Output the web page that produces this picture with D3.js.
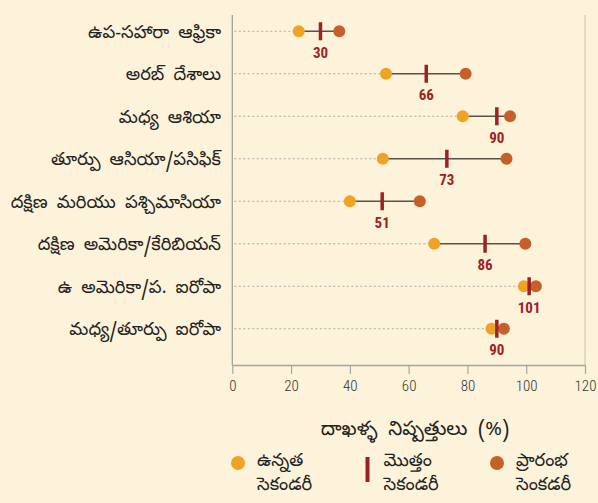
<!DOCTYPE html>
<html><head><meta charset="utf-8">
<script src="https://cdn.jsdelivr.net/npm/d3@7"></script>
<style>
html,body{margin:0;padding:0;background:#FDF3DA;}
svg{display:block;}
</style></head>
<body>
<svg id="chart" width="598" height="503"></svg>
<script>
const categories = ["ఉప-సహారా ఆఫ్రికా","అరబ్ దేశాలు","మధ్య ఆశియా","తూర్పు ఆసియా/పసిఫిక్","దక్షిణ మరియు పశ్చిమాసియా","దక్షిణ అమెరికా/కేరిబియన్","ఉ అమెరికా/ప. ఐరోపా","మధ్య/తూర్పు ఐరోపా"];
const upperSecondary = [22.6, 52.3, 78.4, 51.2, 40.0, 68.7, 99.2, 88.2];
const totalSecondary = [30, 66, 90, 73, 51, 86, 101, 90];
const lowerSecondary = [36.4, 79.4, 94.5, 93.3, 63.8, 99.7, 103.3, 92.4];
const xTicks = [0, 20, 40, 60, 80, 100, 120];
const axisTitle = "దాఖళ్ళ నిష్పత్తులు (%)";
const legendItems = [
  {key:"upper", lines:["ఉన్నత","సెకండరీ"]},
  {key:"total", lines:["మొత్తం","సెకండరీ"]},
  {key:"lower", lines:["ప్రారంభ","సెంకడరీ"]}
];

const colors = {upper:"#F0A224", total:"#9C2226", lower:"#C65F28"};
const svg = d3.select("#chart");
const labelFont = "'Noto Sans Telugu','Noto Sans','DejaVu Sans',sans-serif";
const numFont = "'Liberation Sans Narrow','Roboto Condensed','Arial Narrow',sans-serif";

const x = d3.scaleLinear().domain([0,120]).range([232.3,585]);
const y = d3.scaleBand().domain(categories).range([10,350]);
const yc = c => y(c) + y.bandwidth()/2;
const plotTop = 15, plotBottom = 365;

// right border
svg.append("line").attr("x1",x(120)).attr("x2",x(120)).attr("y1",plotTop).attr("y2",plotBottom)
  .attr("stroke","#D9D1C1").attr("stroke-width",1.5);

// left axis line
svg.append("line").attr("x1",x(0)).attr("x2",x(0)).attr("y1",plotTop).attr("y2",plotBottom)
  .attr("stroke","#9a9a9a").attr("stroke-width",1.2);

// bottom axis
const xAxis = d3.axisBottom(x).tickValues(xTicks).tickSize(9).tickPadding(6).tickSizeOuter(0);
const gx = svg.append("g").attr("transform",`translate(0,${plotBottom})`).call(xAxis);
gx.select(".domain").attr("stroke","#a5a5a5").attr("stroke-width",1.5);
gx.selectAll(".tick line").attr("stroke","#a5a5a5").attr("stroke-width",1.2);
gx.selectAll(".tick text").attr("fill","#333").attr("font-family",numFont)
  .attr("font-size",15).attr("font-weight",300);

// category labels
svg.append("g").selectAll("text").data(categories).join("text")
  .attr("x",221).attr("y",d=>yc(d)).attr("dy","0.35em")
  .attr("text-anchor","end").attr("font-family",labelFont).attr("font-size",18)
  .attr("word-spacing",4)
  .attr("fill","#222").text(d=>d);

const rows = categories.map((c,i)=>({c, u:upperSecondary[i], t:totalSecondary[i], l:lowerSecondary[i]}));

// dotted leader lines
svg.append("g").selectAll("line").data(rows).join("line")
  .attr("x1",x(0)+2).attr("x2",d=>x(d.u)).attr("y1",d=>yc(d.c)).attr("y2",d=>yc(d.c))
  .attr("stroke","#a9a9a9").attr("stroke-width",1).attr("stroke-dasharray","2,2.5");

// connectors
svg.append("g").selectAll("line").data(rows).join("line")
  .attr("x1",d=>x(d.u)).attr("x2",d=>x(d.l)).attr("y1",d=>yc(d.c)).attr("y2",d=>yc(d.c))
  .attr("stroke","#5a5147").attr("stroke-width",1.6);

// upper secondary dots
svg.append("g").selectAll("circle").data(rows).join("circle")
  .attr("cx",d=>x(d.u)).attr("cy",d=>yc(d.c)).attr("r",6).attr("fill",colors.upper);
// lower secondary dots
svg.append("g").selectAll("circle").data(rows).join("circle")
  .attr("cx",d=>x(d.l)).attr("cy",d=>yc(d.c)).attr("r",6).attr("fill",colors.lower);
// total bar
svg.append("g").selectAll("rect").data(rows).join("rect")
  .attr("x",d=>x(d.t)-1.75).attr("y",d=>yc(d.c)-9).attr("width",3.5).attr("height",18)
  .attr("fill",colors.total);
// value labels
svg.append("g").selectAll("text").data(rows).join("text")
  .attr("x",d=>x(d.t)).attr("y",d=>yc(d.c)+21).attr("dy","0.35em")
  .attr("text-anchor","middle").attr("font-family",numFont).attr("font-weight","bold")
  .attr("font-size",15).attr("fill",colors.total).text(d=>d.t);

// axis title
svg.append("text").attr("x",415).attr("y",428).attr("dy","0.35em").attr("text-anchor","middle")
  .attr("font-family",labelFont).attr("font-size",20).attr("word-spacing",5)
  .attr("fill","#222").text(axisTitle);

// legend
const legX = [238, 367.5, 497];
const lg = svg.append("g");
legendItems.forEach((it,i)=>{
  const cx = legX[i];
  if(it.key==="total"){
    lg.append("rect").attr("x",cx-2).attr("y",457).attr("width",4).attr("height",25).attr("fill",colors.total);
  } else {
    lg.append("circle").attr("cx",cx).attr("cy",463).attr("r",7).attr("fill",colors[it.key]);
  }
  it.lines.forEach((ln,j)=>{
    lg.append("text").attr("x",cx+(it.key==="total"?16:19)).attr("y",460+j*24).attr("dy","0.35em")
      .attr("font-family",labelFont).attr("font-size",18).attr("fill","#222").text(ln);
  });
});
</script>
</body></html>
